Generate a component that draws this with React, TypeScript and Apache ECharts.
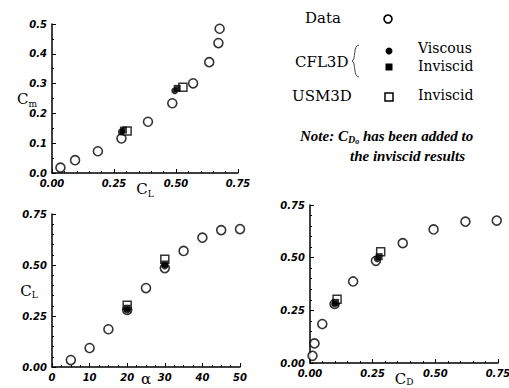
import { useEffect, useRef } from "react";
import * as echarts from "echarts";

// Wind-tunnel data vs angle of attack
const alpha = [5, 10, 15, 20, 25, 30, 35, 40, 45, 50];
const dataCL = [0.034, 0.093, 0.185, 0.28, 0.387, 0.485, 0.569, 0.634, 0.671, 0.676];
const dataCD = [0.01, 0.018, 0.049, 0.098, 0.172, 0.263, 0.37, 0.493, 0.62, 0.745];
const dataCm = [0.018, 0.043, 0.073, 0.116, 0.172, 0.234, 0.301, 0.372, 0.436, 0.484];

// CFD results at two angles of attack
const cfdAlpha = [20, 30];
const cflViscousCL = [0.28, 0.495];
const cflViscousCD = [0.098, 0.268];
const cflViscousCm = [0.138, 0.276];
const cflInviscidCL = [0.288, 0.505];
const cflInviscidCD = [0.102, 0.276];
const cflInviscidCm = [0.144, 0.284];
const usmInviscidCL = [0.303, 0.528];
const usmInviscidCD = [0.108, 0.282];
const usmInviscidCm = [0.141, 0.288];

const zip = (xs: number[], ys: number[]) => xs.map((x, i) => [x, ys[i]]);

const tickFont = {
  fontFamily: "DejaVu Sans",
  fontWeight: "bold" as const,
  fontStyle: "italic" as const,
  fontSize: 10,
  color: "#000",
};

function axis(
  gridIndex: number,
  min: number,
  max: number,
  interval: number,
  digits: number,
  minorSplit: number,
  extra: any = {}
) {
  return {
    type: "value",
    gridIndex,
    min,
    max,
    interval,
    nameMoveOverlap: false,
    axisLine: { show: true, onZero: false, lineStyle: { color: "#000", width: 1.5 } },
    axisTick: { show: true, inside: true, length: 4, lineStyle: { color: "#000" } },
    minorTick: { show: true, splitNumber: minorSplit, length: 2, lineStyle: { color: "#000" } },
    splitLine: { show: false },
    axisLabel: {
      ...tickFont,
      margin: 5,
      formatter: (v: number) => v.toFixed(digits),
    },
    ...extra,
  };
}

const nameRich = {
  c: { fontFamily: "DejaVu Serif", fontSize: 15, color: "#000" },
  s: { fontFamily: "DejaVu Serif", fontSize: 9, color: "#000", padding: [9, 0, 0, 0] },
  a: { fontFamily: "DejaVu Serif", fontSize: 15, color: "#000" },
};
const xName = { rich: nameRich, verticalAlign: "top" };
const yName = { rich: nameRich, align: "center", verticalAlign: "middle" };

function seriesFor(gi: number, xs: number[][], ys: number[][]) {
  const [dx, vx, ix, ux] = xs;
  const [dy, vy, iy, uy] = ys;
  const base = { type: "scatter", xAxisIndex: gi, yAxisIndex: gi };
  return [
    {
      ...base,
      name: "Data",
      symbol: "circle",
      symbolSize: 9,
      itemStyle: { color: "#fff", borderColor: "#000", borderWidth: 1.6 },
      data: zip(dx, dy),
    },
    {
      ...base,
      name: "USM3D Inviscid",
      symbol: "rect",
      symbolSize: 8,
      itemStyle: { color: "#fff", borderColor: "#000", borderWidth: 1.5 },
      data: zip(ux, uy),
    },
    {
      ...base,
      name: "CFL3D Inviscid",
      symbol: "rect",
      symbolSize: 7,
      itemStyle: { color: "#000" },
      data: zip(ix, iy),
    },
    {
      ...base,
      name: "CFL3D Viscous",
      symbol: "circle",
      symbolSize: 7,
      itemStyle: { color: "#000" },
      data: zip(vx, vy),
    },
  ];
}

const legendFont = { fontFamily: "DejaVu Serif", fontSize: 15, fill: "#000" };
const noteFont = {
  fontFamily: "Liberation Serif",
  fontWeight: "bold" as const,
  fontStyle: "italic" as const,
  fill: "#000",
};

export default function App() {
  const ref = useRef<HTMLDivElement>(null);

  useEffect(() => {
    if (!ref.current) return;
    const chart = echarts.init(ref.current, undefined, { renderer: "svg" });
    chart.setOption({
      animation: false,
      backgroundColor: "#fff",
      grid: [
        { left: 52, top: 24, width: 186, height: 149, containLabel: false, outerBoundsMode: "none" },
        { left: 52, top: 214, width: 188, height: 153, containLabel: false, outerBoundsMode: "none" },
        { left: 310, top: 205, width: 188, height: 158, containLabel: false, outerBoundsMode: "none" },
      ],
      xAxis: [
        axis(0, 0, 0.75, 0.25, 2, 5, {
          name: "{c|C}{s|L}",
          nameLocation: "middle",
          nameGap: 7,
          nameTextStyle: xName,
        }),
        axis(1, 0, 50, 10, 0, 4, {
          name: "{a|α}",
          nameLocation: "middle",
          nameGap: 4,
          nameTextStyle: xName,
        }),
        axis(2, 0, 0.75, 0.25, 2, 5, {
          name: "{c|C}{d|D}",
          nameLocation: "middle",
          nameGap: 8,
          nameTextStyle: {
            ...xName,
            rich: {
              ...nameRich,
              d: { fontFamily: "DejaVu Serif", fontSize: 9, color: "#000", padding: [6, 0, 0, 0] },
            },
          },
        }),
      ],
      yAxis: [
        axis(0, 0, 0.5, 0.1, 1, 2),
        axis(1, 0, 0.75, 0.25, 2, 5, {
          name: "{c|C}{s|L}",
          nameLocation: "middle",
          nameRotate: 0,
          nameGap: 23,
          nameTextStyle: yName,
        }),
        axis(2, 0, 0.75, 0.25, 2, 5),
      ],
      series: [
        ...seriesFor(
          0,
          [dataCL, cflViscousCL, cflInviscidCL, usmInviscidCL],
          [dataCm, cflViscousCm, cflInviscidCm, usmInviscidCm]
        ),
        ...seriesFor(
          1,
          [alpha, cfdAlpha, cfdAlpha, cfdAlpha],
          [dataCL, cflViscousCL, cflInviscidCL, usmInviscidCL]
        ),
        ...seriesFor(
          2,
          [dataCD, cflViscousCD, cflInviscidCD, usmInviscidCD],
          [dataCL, cflViscousCL, cflInviscidCL, usmInviscidCL]
        ),
      ],
      graphic: [
        // pitching-moment axis title
        {
          type: "text",
          x: 17,
          y: 99,
          style: {
            text: "{c|C}{s|m}",
            verticalAlign: "middle",
            rich: {
              c: { fontFamily: "DejaVu Serif", fontSize: 15, fill: "#000" },
              s: { fontFamily: "DejaVu Serif", fontSize: 9, fill: "#000", padding: [9, 0, 0, 0] },
            },
          },
        },
        { type: "text", x: 305, y: 18, style: { ...legendFont, text: "Data", verticalAlign: "middle" } },
        { type: "circle", shape: { cx: 388, cy: 19, r: 4 }, style: { fill: "#fff", stroke: "#000", lineWidth: 1.6 } },
        { type: "text", x: 295, y: 62, style: { ...legendFont, text: "CFL3D", verticalAlign: "middle" } },
        {
          type: "bezierCurve",
          shape: { x1: 359, y1: 45, cpx1: 353, cpy1: 45, cpx2: 356, cpy2: 60, x2: 352, y2: 61 },
          style: { stroke: "#444", lineWidth: 1, fill: "none" },
        },
        {
          type: "bezierCurve",
          shape: { x1: 352, y1: 61, cpx1: 356, cpy1: 62, cpx2: 353, cpy2: 77, x2: 359, y2: 77 },
          style: { stroke: "#444", lineWidth: 1, fill: "none" },
        },
        { type: "circle", shape: { cx: 389, cy: 51, r: 3.5 }, style: { fill: "#000" } },
        { type: "rect", shape: { x: 385.5, y: 63.5, width: 7, height: 7 }, style: { fill: "#000" } },
        { type: "text", x: 418, y: 48, style: { ...legendFont, fontSize: 14, text: "Viscous", verticalAlign: "middle" } },
        { type: "text", x: 418, y: 66, style: { ...legendFont, fontSize: 14, text: "Inviscid", verticalAlign: "middle" } },
        { type: "text", x: 292, y: 96, style: { ...legendFont, text: "USM3D", verticalAlign: "middle" } },
        { type: "rect", shape: { x: 385, y: 93, width: 8, height: 8 }, style: { fill: "#fff", stroke: "#000", lineWidth: 1.5 } },
        { type: "text", x: 418, y: 95, style: { ...legendFont, fontSize: 14, text: "Inviscid", verticalAlign: "middle" } },
        {
          type: "text",
          x: 300,
          y: 136,
          style: {
            text: "{n|Note: C}{s|D}{t|o}{n| has been added to}",
            verticalAlign: "middle",
            rich: {
              n: { ...noteFont, fontSize: 15 },
              s: { ...noteFont, fontSize: 10, padding: [7, 0, 0, 0] },
              t: { ...noteFont, fontSize: 8, padding: [10, 0, 0, 0] },
            },
          },
        },
        {
          type: "text",
          x: 350,
          y: 156,
          style: { ...noteFont, fontSize: 15, text: "the inviscid results", verticalAlign: "middle" },
        },
      ],
    });
    return () => chart.dispose();
  }, []);

  return (
    <div
      ref={ref}
      style={{ position: "fixed", left: 0, top: 0, width: 509, height: 388, background: "#fff" }}
    />
  );
}
